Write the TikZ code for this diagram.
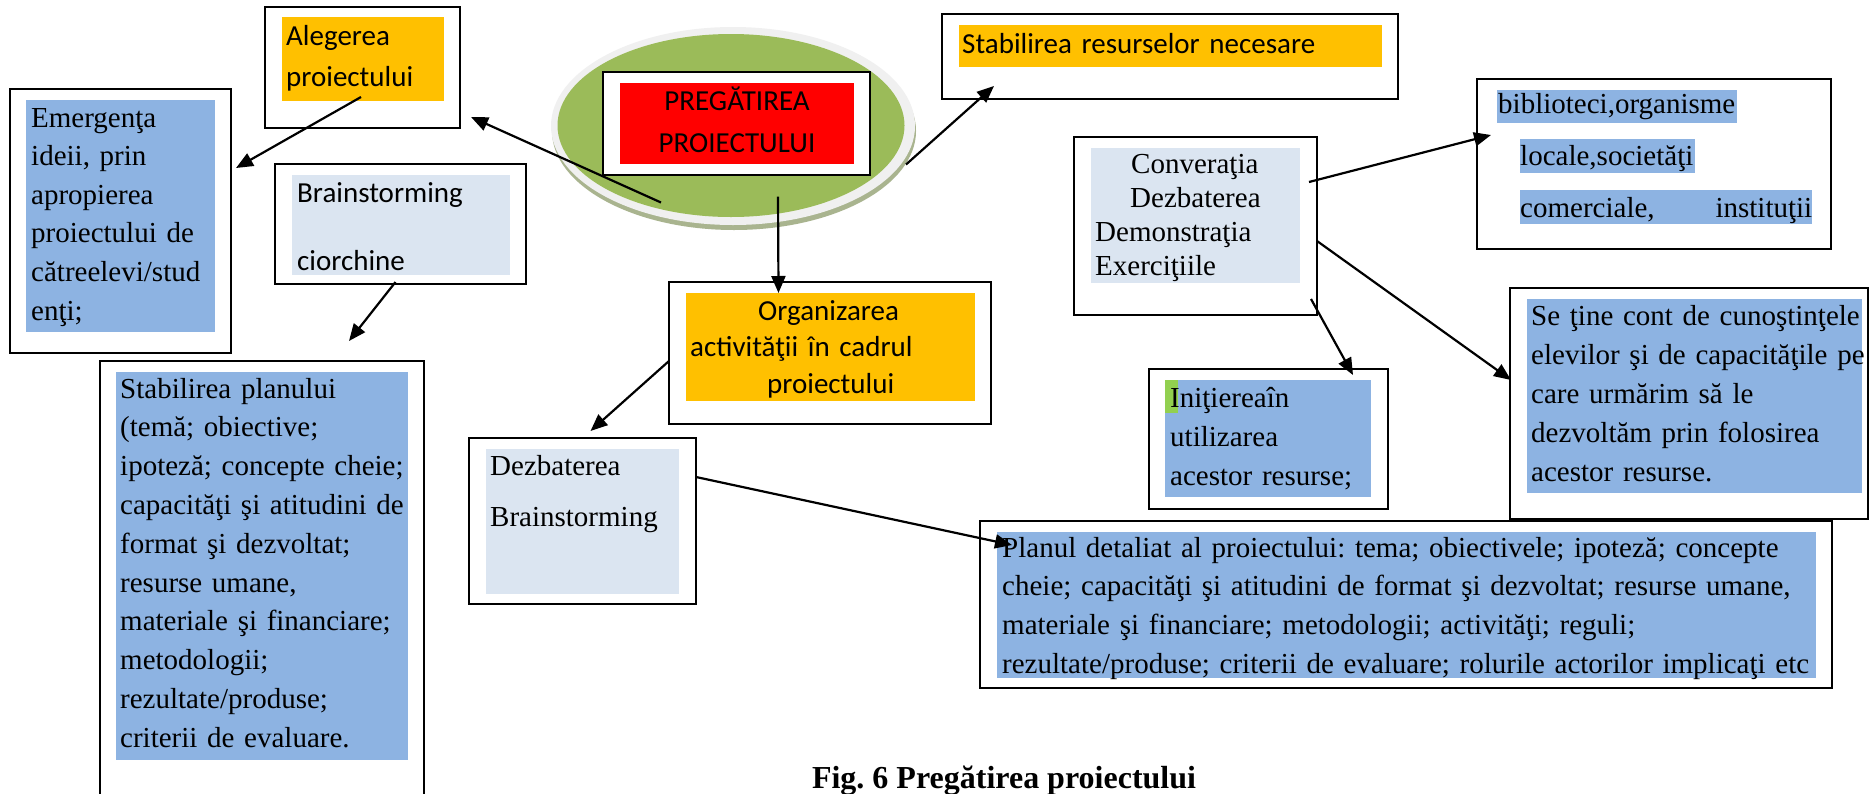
\documentclass[tikz,border=0pt]{standalone}
\usepackage{fontspec}
\setmainfont{Liberation Serif}
\newfontfamily\calfont{Carlito}
\usetikzlibrary{arrows.meta,shapes.geometric,calc}
\definecolor{orng}{HTML}{FFC000}
\definecolor{hlblue}{HTML}{8DB3E2}
\definecolor{ltblue}{HTML}{DBE5F1}
\definecolor{grn}{HTML}{9BBB59}
\definecolor{hlgreen}{HTML}{92D050}
\definecolor{ringgray}{HTML}{F0F0F0}
\definecolor{shadowc}{HTML}{A9B48F}
\begin{document}
\frenchspacing
\begin{tikzpicture}[x=1pt,y=-1pt,
  box/.style={draw=black,line width=2pt,inner sep=0pt,outer sep=0pt,anchor=north west},
  fillbox/.style={inner sep=0pt,outer sep=0pt,anchor=north west,fill=#1},
  ser/.style={font=\frenchspacing\fontsize{29}{#1}\selectfont,anchor=base west,inner sep=0pt,align=left,text width=900pt},
  cal/.style={font=\frenchspacing\calfont\fontsize{29}{#1}\selectfont,anchor=base west,inner sep=0pt,align=left,text width=900pt},
  arr/.style={line width=2.2pt,-{Triangle[length=17pt,width=14pt]}}]
\path[use as bounding box,clip] (0,0) rectangle (1870,793);
\fill[white] (0,0) rectangle (1870,793);
% central ellipse
\node[ellipse,fill=shadowc,inner sep=0pt,minimum width=364pt,minimum height=198pt] (ellsh) at (734,131) {};
\node[ellipse,fill=ringgray,inner sep=0pt,minimum width=364pt,minimum height=198pt] (ellring) at (733,126) {};
\node[ellipse,fill=grn,inner sep=0pt,minimum width=347pt,minimum height=183pt] (ell) at (731,125.5) {};
% outer boxes
\node[box,minimum width=195pt,minimum height=121pt] (aleg) at (265,7) {};
\node[box,minimum width=221pt,minimum height=264pt] (emerg) at (10,89) {};
\node[box,minimum width=251pt,minimum height=120pt] (brain) at (275,164) {};
\node[box,minimum width=324pt,minimum height=450pt] (plan) at (100,361) {};
\node[box,minimum width=227pt,minimum height=166pt] (dez) at (469,438) {};
\node[box,minimum width=322pt,minimum height=142pt] (org) at (669,282) {};
\node[box,minimum width=456pt,minimum height=85pt] (res) at (942,14) {};
\node[box,fill=white,minimum width=267pt,minimum height=103pt] (pregbox) at (603,72) {};
\node[box,minimum width=243pt,minimum height=178pt] (conv) at (1074,137) {};
\node[box,minimum width=354pt,minimum height=170pt] (bib) at (1477,79) {};
\node[box,minimum width=239pt,minimum height=140pt] (ini) at (1149,369) {};
\node[box,minimum width=358pt,minimum height=231pt] (se) at (1510,288) {};
\node[box,minimum width=852pt,minimum height=167pt] (planul) at (980,521) {};
% fills
\node[fillbox=orng,minimum width=162pt,minimum height=84pt] (alegf) at (282,17) {};
\node[fillbox=hlblue,minimum width=189pt,minimum height=232pt] (emergf) at (26,100) {};
\node[fillbox=ltblue,minimum width=218pt,minimum height=100pt] (brainf) at (292,175) {};
\node[fillbox=hlblue,minimum width=292pt,minimum height=388pt] (planf) at (116,372) {};
\node[fillbox=ltblue,minimum width=193pt,minimum height=145pt] (dezf) at (486,449) {};
\node[fillbox=orng,minimum width=289pt,minimum height=108pt] (orgf) at (686,293) {};
\node[fillbox=orng,minimum width=423pt,minimum height=42pt] (resf) at (959,25) {};
\node[fillbox=red,minimum width=234pt,minimum height=81pt] (pregf) at (620,83) {};
\node[fillbox=ltblue,minimum width=209pt,minimum height=135pt] (convf) at (1091,148) {};
\node[fillbox=hlblue,minimum width=240pt,minimum height=33pt] (bibf1) at (1497,90) {};
\node[fillbox=hlblue,minimum width=175pt,minimum height=34pt] (bibf2) at (1520,139) {};
\node[fillbox=hlblue,minimum width=292pt,minimum height=34pt] (bibf3) at (1520,190) {};
\node[fillbox=hlblue,minimum width=206pt,minimum height=117pt] (inif) at (1165,380) {};
\node[fillbox=hlgreen,minimum width=13pt,minimum height=33pt] (inig) at (1165,380) {};
\node[fillbox=hlblue,minimum width=335pt,minimum height=194pt] (sef) at (1527,299) {};
\node[fillbox=hlblue,minimum width=819pt,minimum height=146pt] (planulf) at (997,532) {};
% texts
\node[cal=41] (alegt) at (286,45) {Alegerea\\proiectului};
\node[ser=38.6] (emergt) at (31,127) {Emergenţa\\ideii, prin\\apropierea\\proiectului de\\cătreelevi/stud\\enţi;};
\node[cal=34] (braint) at (297,202) {Brainstorming\\[34pt]ciorchine};
\node[ser=38.8] (plant) at (120,398) {Stabilirea planului\\(temă; obiective;\\ipoteză; concepte cheie;\\capacităţi şi atitudini de\\format şi dezvoltat;\\resurse umane,\\materiale şi financiare;\\metodologii;\\rezultate/produse;\\criterii de evaluare.};
\node[ser=51] (dezt) at (490,475) {Dezbaterea\\Brainstorming};
\node[cal=36.5] (orgt) at (690,320) {\hspace*{68pt}Organizarea\\activităţii în cadrul\\\hspace*{77pt}proiectului};
\node[cal=34] (rest) at (962,53) {Stabilirea resurselor necesare};
\node[font=\calfont\fontsize{29}{42}\selectfont,anchor=base,inner sep=0pt,align=center,text width=300pt] (pregt) at (737,110) {PREGĂTIREA\\PROIECTULUI};
\node[ser=34] (convt) at (1095,173) {\hspace*{36pt}Converaţia\\\hspace*{35pt}Dezbaterea\\Demonstraţia\\Exerciţiile};
\node[ser=52] (bibt) at (1498,113) {biblioteci,organisme\\\hspace*{22pt}locale,societăţi\\\hspace*{22pt}\hbox to 292pt{comerciale,\hfill instituţii}};
\node[ser=39] (init) at (1170,407) {Iniţiereaîn\\utilizarea\\acestor resurse;};
\node[ser=39] (set) at (1531,325) {Se ţine cont de cunoştinţele\\elevilor şi de capacităţile pe\\care urmărim să le\\dezvoltăm prin folosirea\\acestor resurse.};
\node[ser=38.7] (planult) at (1002,557) {Planul detaliat al proiectului: tema; obiectivele; ipoteză; concepte\\cheie; capacităţi şi atitudini de format şi dezvoltat; resurse umane,\\materiale şi financiare; metodologii; activităţi; reguli;\\rezultate/produse; criterii de evaluare; rolurile actorilor implicaţi etc};
\node[font=\bfseries\fontsize{32}{38}\selectfont,anchor=base,inner sep=0pt] (caption) at (1004,788) {Fig. 6 Pregătirea proiectului};
% arrows
\draw[arr] ($(ell.center)+(-70,77)$) -- ($(aleg.south east)+(11,-11)$);
\draw[arr] ($(alegf.south)+(-2,-4)$) -- ($(emerg.north east)+(5,79)$);
\draw[arr] ($(brain.south)+(-5,-2)$) -- ($(plan.north)+(87,-20)$);
\draw[arr] ($(ell.center)+(47,71)$) -- ($(orgf.north)+(-52,0)$);
\draw[arr] ($(ell.center)+(175,39)$) -- ($(res.south west)+(52,-13)$);
\draw[arr] ($(org.west)+(0,8)$) -- ($(dez.north)+(8,-7)$);
\draw[arr] ($(dez.north east)+(0,39)$) -- ($(planul.north west)+(32,24)$);
\draw[arr] ($(conv.north east)+(-8,45)$) -- ($(bib.north west)+(14,56)$);
\draw[arr] ($(conv.north east)+(0,104)$) -- ($(se.north west)+(1,92)$);
\draw[arr] ($(conv.north east)+(-6,162)$) -- ($(ini.north east)+(-35,6)$);
\end{tikzpicture}
\end{document}
